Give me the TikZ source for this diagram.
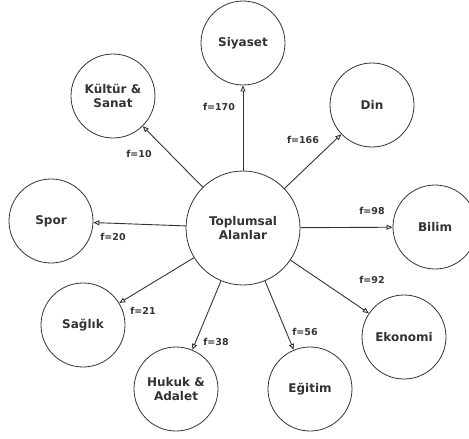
\documentclass[tikz,border=0pt]{standalone}
\usepackage{fontspec}
\setmainfont{DejaVu Sans}
\usetikzlibrary{arrows.meta}

\tikzset{
    alan/.style={circle,draw=black!80,line width=0.8pt,minimum size=84pt,inner sep=0pt,
        align=center,font=\fontsize{12}{14}\selectfont\bfseries,text=black!80},
    frek/.style={font=\fontsize{9.5}{11}\selectfont\bfseries,text=black!80,inner sep=1pt},
    bag/.style={-{Triangle[open,length=6pt,width=5pt]},line width=0.9pt,draw=black!80}
}

\begin{document}
\begin{tikzpicture}[x=1pt,y=-1pt]
            \useasboundingbox (0,0) rectangle (469,439);
            \begin{scope}
            \clip (0,0) rectangle (469,439);
            \node[alan,minimum size=114pt] (toplum) at (243,228) {Toplumsal\\Alanlar};
            \node[alan] (siyaset) at (243,43) {Siyaset};
            \node[alan] (kultur) at (113,96) {Kültür \&\\Sanat};
            \node[alan] (din) at (372,105) {Din};
            \node[alan] (bilim) at (435,227) {Bilim};
            \node[alan] (spor) at (51,221) {Spor};
            \node[alan] (saglik) at (83,325) {Sağlık};
            \node[alan] (hukuk) at (176,389) {Hukuk \&\\Adalet};
            \node[alan] (egitim) at (310,389) {Eğitim};
            \node[alan] (ekonomi) at (404,337) {Ekonomi};
            \end{scope}
            \node[frek] (f170) at (219,107) {f=170};
            \node[frek] (f10) at (139,154) {f=10};
            \node[frek] (f166) at (303,140) {f=166};
            \node[frek] (f98) at (372,211) {f=98};
            \node[frek] (f20) at (113,237) {f=20};
            \node[frek] (f21) at (143,311) {f=21};
            \node[frek] (f38) at (216,342) {f=38};
            \node[frek] (f56) at (305,332) {f=56};
            \node[frek] (f92) at (372,280) {f=92};
            \draw[bag] (toplum) -- (siyaset);
            \draw[bag] (toplum) -- (kultur);
            \draw[bag] (toplum) -- (din);
            \draw[bag] (toplum) -- (bilim);
            \draw[bag] (toplum) -- (spor);
            \draw[bag] (toplum) -- (saglik);
            \draw[bag] (toplum) -- (hukuk);
            \draw[bag] (toplum) -- (egitim);
            \draw[bag] (toplum) -- (ekonomi);
        \end{tikzpicture}
\end{document}
